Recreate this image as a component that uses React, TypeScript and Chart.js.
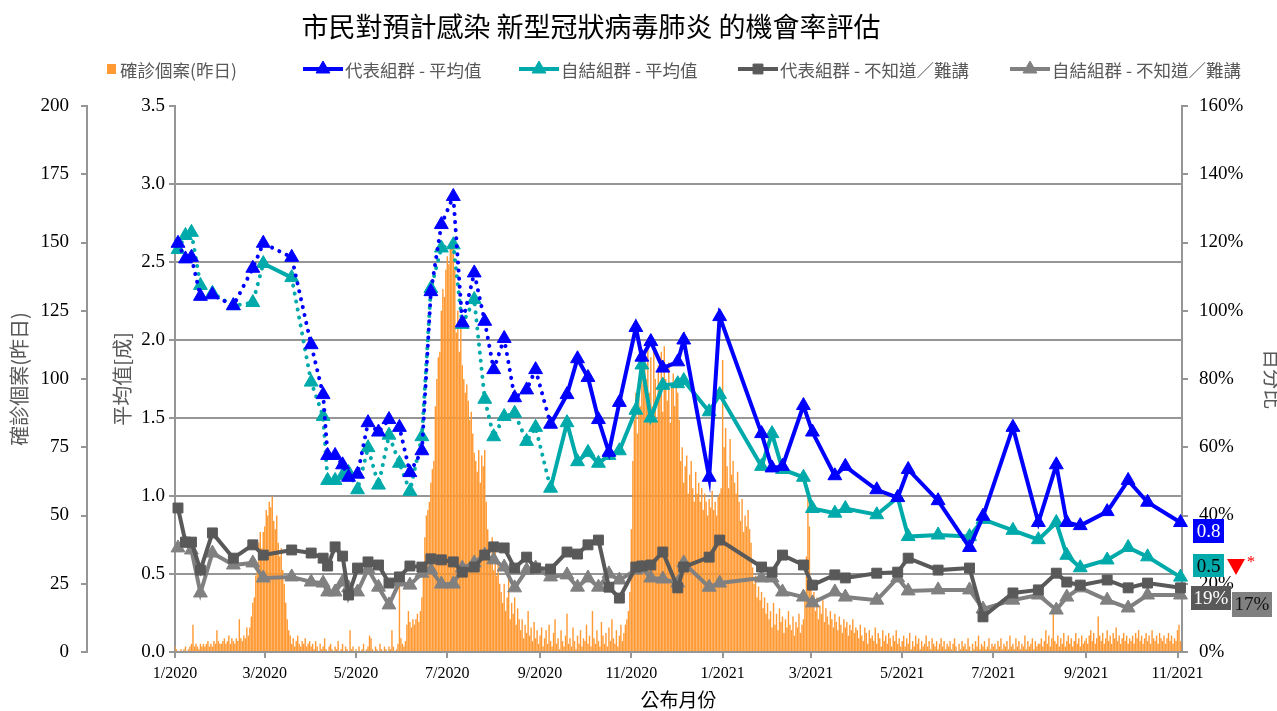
import React, { useEffect, useRef } from 'react';
import { Chart, registerables } from 'chart.js';

Chart.register(...registerables);

// ---------- texts ----------
const chartTitle = '市民對預計感染 新型冠狀病毒肺炎 的機會率評估';
const xAxisTitle = '公布月份';
const casesAxisTitle = '確診個案(昨日)';
const avgAxisTitle = '平均值[成]';
const pctAxisTitle = '百分比';
const seriesNames = [
  '確診個案(昨日)',
  '代表組群 - 平均值',
  '自結組群 - 平均值',
  '代表組群 - 不知道／難講',
  '自結組群 - 不知道／難講',
];

// ---------- axis ----------
const axisStart = '2020-01-01';
const axisEnd = '2021-11-04';
const monthTicks = [
  '2020-01-01', '2020-03-01', '2020-05-01', '2020-07-01', '2020-09-01', '2020-11-01',
  '2021-01-01', '2021-03-01', '2021-05-01', '2021-07-01', '2021-09-01', '2021-11-01',
];

// ---------- survey series ----------
const surveyDates = [
  '2020-01-03', '2020-01-08', '2020-01-12', '2020-01-18', '2020-01-26', '2020-02-09', '2020-02-22', '2020-02-29',
  '2020-03-19', '2020-04-01', '2020-04-09', '2020-04-12', '2020-04-17', '2020-04-22', '2020-04-26', '2020-05-02',
  '2020-05-09', '2020-05-16', '2020-05-23', '2020-05-30', '2020-06-06', '2020-06-14', '2020-06-20', '2020-06-27',
  '2020-07-05', '2020-07-11', '2020-07-19', '2020-07-26', '2020-08-01', '2020-08-08', '2020-08-15', '2020-08-23',
  '2020-08-29', '2020-09-08', '2020-09-19', '2020-09-26', '2020-10-03', '2020-10-10', '2020-10-17', '2020-10-24',
  '2020-11-04', '2020-11-08', '2020-11-14', '2020-11-22', '2020-12-02', '2020-12-06', '2020-12-23', '2020-12-30',
  '2021-01-27', '2021-02-03', '2021-02-10', '2021-02-24', '2021-03-02', '2021-03-17', '2021-03-24', '2021-04-14',
  '2021-04-28', '2021-05-05', '2021-05-25', '2021-06-15', '2021-06-24', '2021-07-14', '2021-07-31', '2021-08-12',
  '2021-08-19', '2021-08-28', '2021-09-15', '2021-09-29', '2021-10-12', '2021-11-03',
];
const repAvg = [
  2.62, 2.52, 2.53, 2.28, 2.29, 2.22, 2.46, 2.62, 2.53, 1.97,
  1.65, 1.26, 1.26, 1.20, 1.12, 1.14, 1.47, 1.41, 1.49, 1.44,
  1.15, 1.29, 2.31, 2.74, 2.92, 2.11, 2.43, 2.12, 1.81, 2.01,
  1.63, 1.68, 1.81, 1.46, 1.65, 1.88, 1.76, 1.49, 1.28, 1.60,
  2.08, 1.89, 1.99, 1.82, 1.86, 2.00, 1.12, 2.15, 1.40, 1.18,
  1.19, 1.58, 1.41, 1.13, 1.19, 1.04, 0.99, 1.17, 0.97, 0.67,
  0.87, 1.44, 0.83, 1.20, 0.83, 0.81, 0.90, 1.10, 0.96, 0.83,
];
const selfAvg = [
  2.58, 2.67, 2.69, 2.35, 2.30, 2.22, 2.24, 2.49, 2.40, 1.73,
  1.51, 1.10, 1.10, 1.13, 1.15, 1.04, 1.31, 1.07, 1.39, 1.21,
  1.03, 1.38, 2.33, 2.59, 2.61, 2.10, 2.26, 1.62, 1.38, 1.51,
  1.53, 1.35, 1.44, 1.05, 1.47, 1.22, 1.28, 1.21, 1.26, 1.29,
  1.55, 1.84, 1.50, 1.71, 1.72, 1.74, 1.54, 1.65, 1.19, 1.40,
  1.17, 1.12, 0.92, 0.89, 0.92, 0.88, 0.99, 0.74, 0.75, 0.74,
  0.85, 0.78, 0.72, 0.83, 0.62, 0.54, 0.59, 0.67, 0.61, 0.48,
];
const repUnsure = [
  42.2, 32.2, 32.2, 24.0, 34.9, 27.5, 31.4, 28.4, 29.9, 29.0,
  27.5, 25.2, 30.8, 28.1, 16.7, 24.6, 26.4, 25.5, 20.2, 22.0,
  25.2, 24.9, 27.3, 27.0, 26.4, 23.4, 24.9, 28.4, 30.8, 30.5,
  24.6, 27.8, 24.6, 24.3, 29.3, 28.7, 31.4, 32.8, 19.0, 15.8,
  24.9, 25.2, 25.5, 29.3, 18.8, 24.9, 27.8, 32.8, 24.9, 23.4,
  28.4, 25.5, 19.6, 22.6, 21.7, 23.1, 23.4, 27.5, 24.0, 24.6,
  10.3, 17.3, 18.2, 23.1, 20.5, 19.6, 21.1, 18.8, 20.2, 18.8,
];
const selfUnsure = [
  30.5, 31.9, 29.9, 17.3, 29.0, 25.5, 26.1, 21.7, 22.0, 20.5,
  20.2, 17.6, 17.6, 20.5, 18.8, 17.6, 24.3, 19.0, 13.8, 20.5,
  19.6, 23.1, 24.0, 19.9, 19.9, 24.6, 26.1, 28.4, 27.0, 24.9,
  18.8, 24.0, 24.6, 22.0, 22.6, 19.0, 21.7, 19.0, 22.9, 21.1,
  24.0, 24.6, 21.7, 21.4, 20.2, 26.1, 19.0, 20.2, 21.7, 21.7,
  17.6, 16.1, 14.4, 17.6, 16.1, 15.2, 21.7, 17.9, 18.2, 18.2,
  12.6, 15.2, 16.7, 12.3, 16.1, 18.8, 15.2, 12.9, 16.7, 16.7,
];
// averages are drawn dotted up to this survey (older method), except listed segments
const dottedUntil = '2020-09-08';
const repSolidSegments = [11];
const selfSolidSegments = [7, 11];

// ---------- daily confirmed cases (bars) ----------
const cases2020Jan = [2, 1, 0, 0, 1, 0, 1, 2, 0, 1, 2, 3, 10, 2, 3, 2, 1, 3, 2, 3, 2, 3, 4, 2, 3, 2, 4, 3, 8, 4, 3];
const cases2020Feb = [3, 4, 5, 3, 4, 6, 3, 5, 4, 3, 5, 4, 12, 5, 4, 6, 5, 9, 6, 9, 13, 18, 20, 28, 30, 40, 44, 38, 44];
const cases2020Mar = [46, 52, 50, 55, 53, 57, 48, 45, 50, 40, 35, 38, 30, 25, 18, 12, 8, 6, 3, 5, 2, 4, 6, 3, 2, 4, 3, 5, 2, 3, 4];
const cases2020Apr = [2, 3, 1, 4, 2, 0, 3, 1, 2, 5, 1, 0, 2, 3, 1, 0, 2, 1, 4, 0, 1, 3, 0, 2, 1, 0, 8, 1, 2, 0];
const cases2020May = [1, 0, 2, 0, 1, 3, 0, 1, 2, 6, 5, 1, 0, 2, 1, 0, 3, 1, 0, 2, 1, 0, 2, 1, 8, 2, 0, 1, 3, 28, 5];
const cases2020Jun = [3, 2, 4, 10, 15, 11, 9, 12, 10, 12, 14, 11, 15, 20, 30, 42, 50, 52, 55, 62, 67, 70, 90, 100, 108, 110, 125, 133, 130, 140];
const cases2020Jul = [145, 142, 149, 148, 150, 140, 117, 125, 110, 120, 105, 100, 95, 98, 92, 85, 88, 80, 73, 70, 66, 74, 62, 72, 68, 74, 55, 45, 40, 35, 42];
const cases2020Aug = [30, 38, 28, 33, 25, 22, 18, 25, 15, 20, 28, 12, 18, 14, 20, 10, 16, 12, 8, 12, 5, 10, 7, 15, 6, 9, 4, 11, 5, 8, 3];
const cases2020Sep = [6, 9, 2, 5, 8, 3, 10, 4, 2, 7, 12, 3, 5, 1, 8, 4, 2, 6, 14, 3, 5, 2, 9, 4, 1, 6, 3, 8, 2, 5];
const cases2020Oct = [4, 10, 3, 6, 2, 15, 5, 3, 8, 4, 2, 11, 6, 3, 7, 2, 9, 4, 12, 5, 3, 8, 2, 6, 10, 4, 7, 10, 12, 15, 22];
const cases2020Nov = [45, 70, 85, 95, 80, 100, 90, 105, 98, 110, 100, 115, 95, 108, 90, 112, 100, 85, 105, 95, 110, 88, 112, 100, 92, 106, 84, 98, 102, 90];
const cases2020Dec = [100, 95, 85, 70, 75, 62, 68, 72, 58, 65, 70, 60, 55, 66, 58, 62, 55, 60, 52, 58, 55, 50, 56, 53, 59, 52, 55, 50, 57, 58, 60];
const cases2021Jan = [107, 75, 82, 68, 60, 78, 65, 70, 62, 58, 66, 55, 48, 56, 44, 50, 46, 52, 45, 40, 31, 25, 28, 20, 24, 19, 22, 16, 20, 14, 18];
const cases2021Feb = [12, 15, 9, 18, 10, 14, 8, 16, 11, 13, 7, 12, 9, 15, 10, 8, 13, 6, 11, 9, 14, 7, 10, 12, 20, 35, 60, 46];
const cases2021Mar = [25, 18, 22, 15, 20, 12, 17, 14, 19, 11, 16, 13, 10, 15, 12, 9, 14, 11, 8, 13, 10, 7, 12, 9, 11, 6, 10, 8, 12, 7, 9];
const cases2021Apr = [8, 5, 10, 6, 4, 9, 7, 3, 8, 5, 6, 4, 9, 3, 7, 5, 2, 8, 4, 6, 3, 7, 5, 2, 6, 4, 8, 3, 5, 2];
const cases2021May = [4, 6, 2, 5, 3, 7, 1, 4, 2, 6, 3, 5, 1, 4, 2, 3, 6, 2, 4, 1, 5, 3, 2, 4, 1, 3, 5, 2, 4, 1, 3];
const cases2021Jun = [2, 4, 1, 3, 5, 2, 0, 3, 1, 4, 2, 3, 1, 5, 2, 0, 3, 1, 4, 2, 6, 1, 3, 2, 4, 1, 2, 5, 1, 3];
const cases2021Jul = [2, 3, 1, 4, 2, 5, 1, 3, 2, 4, 1, 6, 2, 3, 1, 5, 2, 4, 1, 3, 2, 6, 1, 4, 2, 3, 5, 1, 4, 2, 3];
const cases2021Aug = [3, 5, 2, 4, 8, 3, 6, 2, 5, 17, 4, 3, 6, 2, 5, 3, 7, 2, 4, 6, 3, 5, 2, 4, 7, 3, 5, 2, 6, 3, 4];
const cases2021Sep = [5, 3, 6, 8, 4, 7, 3, 5, 13, 6, 4, 7, 3, 5, 8, 4, 6, 3, 7, 5, 9, 4, 6, 3, 5, 7, 4, 6, 3, 5];
const cases2021Oct = [4, 6, 3, 7, 5, 8, 4, 6, 3, 5, 7, 4, 6, 3, 8, 5, 4, 6, 3, 7, 5, 4, 6, 3, 5, 7, 4, 6, 3, 5, 4];
const cases2021Nov = [8, 10, 4];

const dailyCases = [
  ...cases2020Jan, ...cases2020Feb, ...cases2020Mar, ...cases2020Apr, ...cases2020May, ...cases2020Jun,
  ...cases2020Jul, ...cases2020Aug, ...cases2020Sep, ...cases2020Oct, ...cases2020Nov, ...cases2020Dec,
  ...cases2021Jan, ...cases2021Feb, ...cases2021Mar, ...cases2021Apr, ...cases2021May, ...cases2021Jun,
  ...cases2021Jul, ...cases2021Aug, ...cases2021Sep, ...cases2021Oct, ...cases2021Nov,
];

// ---------- styles ----------
const COLORS = {
  cases: '#FF9933',
  rep: '#0000FF',
  self: '#00AAAA',
  repUnsure: '#595959',
  selfUnsure: '#808080',
  axis: '#969696',
  legendText: '#595959',
};
const CJK = "'Noto Sans CJK TC', 'Noto Sans CJK SC', sans-serif";
const SERIF = "'Liberation Serif', 'Times New Roman', serif";

const DAY = 86400000;
const dayOf = (s: string) =>
  Math.round((Date.parse(s + 'T00:00:00Z') - Date.parse(axisStart + 'T00:00:00Z')) / DAY);
const surveyDays = surveyDates.map(dayOf);
const dottedDay = dayOf(dottedUntil);
const tickDays = monthTicks.map(dayOf);
const tickLabel = (s: string) => {
  const [y, m] = s.split('-');
  return `${Number(m)}/${y}`;
};

function drawMarker(ctx: CanvasRenderingContext2D, style: string, x: number, y: number, r: number, color: string) {
  ctx.save();
  ctx.fillStyle = color;
  ctx.strokeStyle = color;
  ctx.lineWidth = 1;
  ctx.beginPath();
  if (style === 'triangle') {
    let rad = 0;
    ctx.moveTo(x + Math.sin(rad) * r, y - Math.cos(rad) * r);
    rad += (2 * Math.PI) / 3;
    ctx.lineTo(x + Math.sin(rad) * r, y - Math.cos(rad) * r);
    rad += (2 * Math.PI) / 3;
    ctx.lineTo(x + Math.sin(rad) * r, y - Math.cos(rad) * r);
    ctx.closePath();
  } else {
    const s = r * Math.SQRT1_2;
    ctx.rect(x - s, y - s, 2 * s, 2 * s);
  }
  ctx.fill();
  ctx.stroke();
  ctx.restore();
}

const legendItems = [
  { kind: 'box', color: COLORS.cases, x: 107 },
  { kind: 'line', color: COLORS.rep, marker: 'triangle', x: 303 },
  { kind: 'line', color: COLORS.self, marker: 'triangle', x: 519 },
  { kind: 'line', color: COLORS.repUnsure, marker: 'rect', x: 738 },
  { kind: 'line', color: COLORS.selfUnsure, marker: 'triangle', x: 1010 },
];

const decorPlugin = {
  id: 'decor',
  afterDraw(chart: any) {
    const ctx: CanvasRenderingContext2D = chart.ctx;
    const area = chart.chartArea;
    ctx.save();
    // title
    ctx.fillStyle = '#000';
    ctx.font = `27px ${CJK}`;
    ctx.textAlign = 'center';
    ctx.textBaseline = 'middle';
    ctx.fillText(chartTitle, 591, 27);

    // legend
    const ly = 69;
    ctx.font = `17.5px ${CJK}`;
    ctx.textAlign = 'left';
    legendItems.forEach((it, i) => {
      let tx;
      if (it.kind === 'box') {
        ctx.fillStyle = it.color;
        ctx.fillRect(it.x, ly - 5, 9, 10);
        tx = it.x + 13;
      } else {
        ctx.strokeStyle = it.color;
        ctx.lineWidth = 4;
        ctx.beginPath();
        ctx.moveTo(it.x, ly);
        ctx.lineTo(it.x + 40, ly);
        ctx.stroke();
        drawMarker(ctx, it.marker as string, it.x + 20, ly, it.marker === 'rect' ? 7 : 8, it.color);
        tx = it.x + 42;
      }
      ctx.fillStyle = COLORS.legendText;
      ctx.fillText(seriesNames[i], tx, ly + 1);
    });

    // latest-value labels at the right
    const r = area.right;
    const lastRep = repAvg[repAvg.length - 1];
    const lastSelf = selfAvg[selfAvg.length - 1];
    const lastRepU = repUnsure[repUnsure.length - 1];
    const lastSelfU = selfUnsure[selfUnsure.length - 1];
    ctx.font = `19px ${SERIF}`;
    ctx.textAlign = 'center';
    ctx.textBaseline = 'middle';

    ctx.fillStyle = COLORS.rep;
    ctx.fillRect(r + 11, 519, 31, 24);
    ctx.fillStyle = '#fff';
    ctx.fillText(lastRep.toFixed(1), r + 26.5, 532);

    ctx.fillStyle = COLORS.self;
    ctx.fillRect(r + 11, 554, 31, 23);
    ctx.fillStyle = '#000';
    ctx.fillText(lastSelf.toFixed(1), r + 26.5, 567);

    ctx.fillStyle = '#FF0000';
    ctx.beginPath();
    ctx.moveTo(r + 45, 559);
    ctx.lineTo(r + 63, 559);
    ctx.lineTo(r + 54, 575);
    ctx.closePath();
    ctx.fill();
    ctx.font = `17px ${SERIF}`;
    ctx.fillText('*', r + 69, 563);

    ctx.font = `19px ${SERIF}`;
    ctx.fillStyle = COLORS.repUnsure;
    ctx.fillRect(r + 9, 586, 40, 24);
    ctx.fillStyle = '#fff';
    ctx.fillText(`${Math.round(lastRepU)}%`, r + 29, 599);

    ctx.fillStyle = COLORS.selfUnsure;
    ctx.fillRect(r + 50, 592, 40, 25);
    ctx.fillStyle = '#111';
    ctx.fillText(`${Math.round(lastSelfU)}%`, r + 70, 605);
    ctx.restore();
  },
};

function lineDataset(label: string, values: number[], color: string, axis: string, marker: string, radius: number, order: number, solidSegs: number[] | null) {
  const ds: any = {
    type: 'line',
    label,
    yAxisID: axis,
    xAxisID: 'x',
    data: values.map((v, i) => ({ x: surveyDays[i], y: v })),
    borderColor: color,
    backgroundColor: color,
    borderWidth: 4,
    pointStyle: marker,
    pointRadius: radius,
    pointHoverRadius: radius,
    pointBackgroundColor: color,
    pointBorderColor: color,
    pointBorderWidth: 1,
    tension: 0,
    fill: false,
    order,
    clip: false,
  };
  if (solidSegs) {
    const dotted = (c: any) => surveyDays[c.p1DataIndex] <= dottedDay && !solidSegs.includes(c.p0DataIndex);
    ds.segment = {
      borderDash: (c: any) => (dotted(c) ? [0.1, 8] : []),
      borderCapStyle: (c: any) => (dotted(c) ? 'round' : 'butt'),
    };
  }
  return ds;
}

export default function App() {
  const ref = useRef<HTMLCanvasElement | null>(null);
  useEffect(() => {
    if (!ref.current) return;
    const gridCol = COLORS.axis;
    const tickFont = { family: SERIF, size: 19 };
    const chart = new Chart(ref.current, {
      type: 'bar',
      data: {
        datasets: [
          {
            type: 'bar',
            label: seriesNames[0],
            yAxisID: 'yCases',
            xAxisID: 'x',
            data: dailyCases.map((v, i) => ({ x: i, y: v })),
            backgroundColor: COLORS.cases,
            borderWidth: 0,
            barPercentage: 1,
            categoryPercentage: 0.95,
            order: 10,
          } as any,
          lineDataset(seriesNames[1], repAvg, COLORS.rep, 'yAvg', 'triangle', 8, 1, repSolidSegments),
          lineDataset(seriesNames[2], selfAvg, COLORS.self, 'yAvg', 'triangle', 8, 2, selfSolidSegments),
          lineDataset(seriesNames[3], repUnsure, COLORS.repUnsure, 'yPct', 'rect', 7, 3, null),
          lineDataset(seriesNames[4], selfUnsure, COLORS.selfUnsure, 'yPct', 'triangle', 8, 4, null),
        ],
      },
      options: {
        responsive: false,
        animation: false,
        events: [],
        layout: { padding: { top: 106, left: 0, right: 0, bottom: 0 } },
        plugins: { legend: { display: false }, tooltip: { enabled: false }, title: { display: false } },
        scales: {
          x: {
            type: 'linear',
            position: 'bottom',
            min: 0,
            max: dayOf(axisEnd),
            offset: false,
            afterBuildTicks: (s: any) => {
              s.ticks = tickDays.map((v) => ({ value: v }));
            },
            ticks: {
              autoSkip: false,
              maxRotation: 0,
              padding: 6,
              color: '#000',
              font: { family: SERIF, size: 16 },
              callback: (v: any) => {
                const i = tickDays.indexOf(Number(v));
                return i >= 0 ? tickLabel(monthTicks[i]) : '';
              },
            },
            grid: { offset: false, drawOnChartArea: false, drawTicks: true, tickLength: 6, color: gridCol, lineWidth: 2 },
            border: { display: true, color: gridCol, width: 2 },
            title: { display: true, text: xAxisTitle, color: '#000', font: { family: CJK, size: 19 }, padding: 0 },
            afterFit: (s: any) => {
              s.height = 59;
            },
          },
          yAvg: {
            type: 'linear',
            position: 'left',
            weight: 0,
            min: 0,
            max: 3.5,
            ticks: {
              stepSize: 0.5,
              padding: 4,
              color: '#000',
              font: tickFont,
              callback: (v: any) => Number(v).toFixed(1),
            },
            grid: {
              color: (c: any) => (c.tick && c.tick.value >= 3.5 ? 'rgba(0,0,0,0)' : gridCol),
              tickColor: gridCol,
              lineWidth: 2,
              tickLength: 6,
              drawTicks: true,
            },
            border: { display: true, color: gridCol, width: 2 },
            title: { display: true, text: avgAxisTitle, color: COLORS.legendText, font: { family: CJK, size: 20 }, padding: { top: 23, bottom: 0 } },
            afterFit: (s: any) => {
              s.width = 88;
            },
          },
          yCases: {
            type: 'linear',
            position: 'left',
            weight: 1,
            min: 0,
            max: 200,
            ticks: { stepSize: 25, padding: 12, color: '#000', font: tickFont },
            grid: { drawOnChartArea: false, drawTicks: true, tickLength: 6, color: gridCol, lineWidth: 2 },
            border: { display: true, color: gridCol, width: 2 },
            title: { display: true, text: casesAxisTitle, color: COLORS.legendText, font: { family: CJK, size: 20 }, padding: { top: 7, bottom: 0 } },
            afterFit: (s: any) => {
              s.width = 87;
            },
          },
          yPct: {
            type: 'linear',
            position: 'right',
            min: 0,
            max: 160,
            ticks: {
              stepSize: 20,
              padding: 11,
              color: '#000',
              font: tickFont,
              callback: (v: any) => `${v}%`,
            },
            grid: { drawOnChartArea: false, drawTicks: true, tickLength: 6, color: gridCol, lineWidth: 2 },
            border: { display: true, color: gridCol, width: 2 },
            title: { display: true, text: pctAxisTitle, color: COLORS.legendText, font: { family: CJK, size: 20 }, padding: { top: -8, bottom: 0 } },
            afterFit: (s: any) => {
              s.width = 95;
            },
          },
        },
      } as any,
      plugins: [decorPlugin],
    });
    return () => chart.destroy();
  }, []);

  return (
    <div style={{ position: 'fixed', left: 0, top: 0, width: 1277, height: 711, background: '#fff' }}>
      <canvas ref={ref} width={1277} height={711} style={{ display: 'block' }} />
    </div>
  );
}
